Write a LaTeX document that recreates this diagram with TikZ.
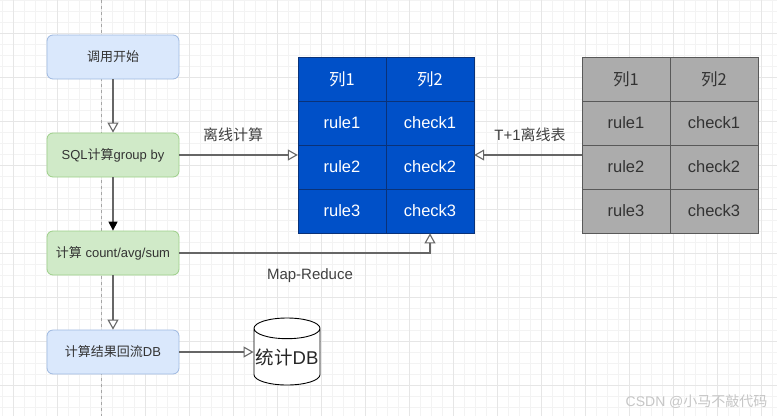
\documentclass[tikz,border=0pt]{standalone}
\usepackage{fontspec}
\setmainfont{Liberation Sans}
\newfontfamily\cjk{Noto Sans CJK SC}
\usetikzlibrary{arrows.meta}
\usetikzlibrary{shapes.geometric}
\definecolor{gridthin}{HTML}{F3F3F3}
\definecolor{gridthick}{HTML}{E6E6E6}
\definecolor{flowgray}{HTML}{666666}
\definecolor{boxblue}{HTML}{DAE8FC}
\definecolor{edgeblue}{HTML}{9DB8E0}
\definecolor{boxgreen}{HTML}{D0EAC8}
\definecolor{edgegreen}{HTML}{9CCF88}
\definecolor{tableblue}{HTML}{0050C8}
\definecolor{edgetable}{HTML}{0A3278}
\newcommand{\cn}[1]{{\cjk #1}}
\tikzset{x=1pt,y=-1pt,
 stepbox/.style={draw,rounded corners=6pt,minimum width=132pt,minimum height=44pt,line width=.8pt,font=\fontsize{13}{15}\selectfont,text=black!80},
 bluebox/.style={stepbox,fill=boxblue,draw=edgeblue},
 greenbox/.style={stepbox,fill=boxgreen,draw=edgegreen},
 tablebase/.style={minimum width=176pt,minimum height=176pt},
 bluecell/.style={draw=edgetable,fill=tableblue,line width=.8pt,minimum width=88pt,minimum height=44pt,text=white,font=\fontsize{16.5}{18}\selectfont},
 graycell/.style={draw=black!65,fill=gray!65,line width=.8pt,minimum width=88pt,minimum height=44pt,text=black!80,font=\fontsize{16.5}{18}\selectfont},
 flow/.style={draw=flowgray,line width=1.1pt,-{Triangle[open,fill=white,length=10pt,width=11pt]}},
 flowblack/.style={draw=flowgray,line width=1.1pt,-{Triangle[black,length=9pt,width=9pt]}},
 plainlabel/.style={font=\fontsize{15}{17}\selectfont,text=black!75},
}
\begin{document}
\begin{tikzpicture}
    \useasboundingbox (0,0) rectangle (777,416);
    \fill[white] (0,0) rectangle (777,416);
    % background grid
    \foreach \x in {2,13,...,772} {
        \draw[gridthin] (\x,0) -- (\x,416);
    }
    \foreach \y in {0,11,...,415} {
        \draw[gridthin] (0,\y) -- (777,\y);
    }
    \foreach \x in {13,57,...,772} {
        \draw[gridthick] (\x,0) -- (\x,416);
    }
    \foreach \y in {33,77,...,415} {
        \draw[gridthick] (0,\y) -- (777,\y);
    }
    \draw[gray!70,dashed] (101,0) -- (101,416);

    % left column
    \node[bluebox] (start) at (113,57) {\cn{调用开始}};
    \node[greenbox] (sqlcalc) at (113,155) {SQL\cn{计算}group by};
    \node[greenbox] (count) at (113,253) {\cn{计算} count/avg/sum};
    \node[bluebox] (result) at (113,352) {\cn{计算结果回流}DB};

    % the two tables
    \node[tablebase] (bluetable) at (386,145) {};
    \node[tablebase] (graytable) at (670,145) {};
    \foreach \a/\b [count=\i] in {\cn{列1}/\cn{列2}, rule1/check1, rule2/check2, rule3/check3} {
        \node[bluecell] (bluea\i) at (342,35+44*\i) {\a};
        \node[bluecell] (blueb\i) at (430,35+44*\i) {\b};
        \node[graycell] (graya\i) at (626,35+44*\i) {\a};
        \node[graycell] (grayb\i) at (714,35+44*\i) {\b};
    }

    \node[draw,cylinder,shape border rotate=90,aspect=.33,inner sep=0pt,minimum width=66pt,minimum height=67pt,line width=.9pt,fill=white,anchor=shape center,font=\fontsize{18.5}{20}\selectfont,text=black!85] (statdb) at (287,351.5) {\smash{\raisebox{-8pt}{\cn{统计}DB}}};

    % connectors
    \draw[flow] (start) -- (sqlcalc);
    \draw[flowblack] (sqlcalc) -- (count);
    \draw[flow] (count) -- (result);
    \draw[flow] (sqlcalc.east) -- (sqlcalc.east -| bluetable.west);
    \draw[flow] (graytable.west |- sqlcalc.east) -- (bluetable.east |- sqlcalc.east);
    \draw[flow] (count.east) -| (blueb4.south);
    \draw[flow] (result.east) -- (result.east -| statdb.west);

    \node[plainlabel] (offlinecalc) at (233,135) {\cn{离线计算}};
    \node[plainlabel] (offlinetable) at (530,135) {T+1\cn{离线表}};
    \node[plainlabel] (mapreduce) at (310,276) {Map-Reduce};
    \node[text=gray!45,font=\fontsize{14}{16}\selectfont,anchor=east] (mark) at (771,402) {CSDN @\cn{小马不敲代码}};
\end{tikzpicture}
\end{document}
